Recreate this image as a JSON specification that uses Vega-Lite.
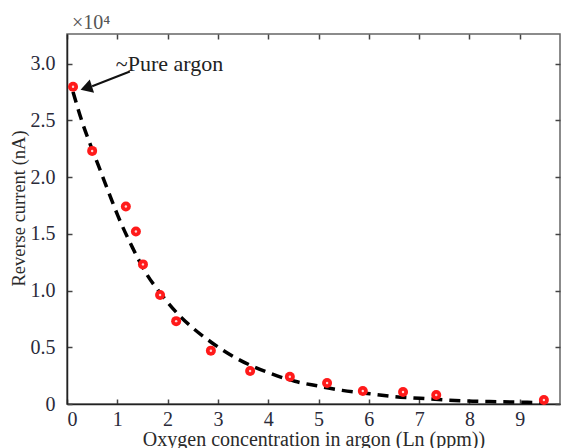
{
  "$schema": "https://vega.github.io/schema/vega-lite/v6.json",
  "width": 493,
  "height": 370,
  "autosize": {"type": "none"},
  "padding": {"left": 67, "top": 34, "right": 3, "bottom": 44},
  "background": "white",
  "config": {
    "font": "Liberation Serif",
    "view": {"stroke": "#666", "strokeWidth": 1.5},
    "axis": {
      "grid": false,
      "domainColor": "#222",
      "domainWidth": 1.5,
      "tickColor": "#444",
      "tickWidth": 1.5,
      "tickSize": -5,
      "labelFont": "Liberation Serif",
      "labelFontSize": 20,
      "labelColor": "#2a2a3a",
      "titleFont": "Liberation Serif",
      "titleFontSize": 20,
      "titleFontWeight": "normal",
      "titleColor": "#2a2a2a"
    }
  },
  "datasets": {
    "points": [
      {"x": 0.12, "y": 2.795}, {"x": 0.5, "y": 2.23}, {"x": 1.17, "y": 1.74},
      {"x": 1.37, "y": 1.52}, {"x": 1.51, "y": 1.23}, {"x": 1.85, "y": 0.96},
      {"x": 2.17, "y": 0.73}, {"x": 2.86, "y": 0.47}, {"x": 3.64, "y": 0.29},
      {"x": 4.43, "y": 0.24}, {"x": 5.17, "y": 0.185}, {"x": 5.88, "y": 0.115},
      {"x": 6.68, "y": 0.105}, {"x": 7.34, "y": 0.08}, {"x": 9.48, "y": 0.035}
    ],
    "curve": [
      {"x": 0.12, "y": 2.75}, {"x": 0.32, "y": 2.46}, {"x": 0.46, "y": 2.29},
      {"x": 0.66, "y": 2.06}, {"x": 0.85, "y": 1.84}, {"x": 1.01, "y": 1.66},
      {"x": 1.3, "y": 1.38}, {"x": 1.59, "y": 1.14}, {"x": 1.85, "y": 0.98},
      {"x": 2.19, "y": 0.8}, {"x": 2.5, "y": 0.67}, {"x": 2.88, "y": 0.54},
      {"x": 3.38, "y": 0.4}, {"x": 4.04, "y": 0.27}, {"x": 4.53, "y": 0.2},
      {"x": 4.97, "y": 0.16}, {"x": 5.47, "y": 0.12}, {"x": 6.02, "y": 0.09},
      {"x": 6.52, "y": 0.065}, {"x": 7.02, "y": 0.05}, {"x": 7.55, "y": 0.035},
      {"x": 8.07, "y": 0.025}, {"x": 8.6, "y": 0.02}, {"x": 9.15, "y": 0.015},
      {"x": 9.5, "y": 0.012}
    ],
    "arrow": [{"x": 1.25, "y": 2.93, "x2": 0.5, "y2": 2.8, "hx": 0.42, "hy": 2.79}],
    "labels": [
      {"x": 0.97, "y": 3.0, "t": "~Pure argon", "size": 22, "color": "#222"},
      {"x": 0.1, "y": 3.36, "t": "×10⁴", "size": 20, "color": "#555"}
    ]
  },
  "resolve": {"axis": {"x": "independent", "y": "independent"}},
  "layer": [
    {
      "data": {"name": "curve"},
      "mark": {"type": "line", "color": "black", "strokeWidth": 3.5, "strokeDash": [11, 7], "interpolate": "monotone"},
      "encoding": {
        "x": {"field": "x", "type": "quantitative",
              "scale": {"domain": [0, 9.8], "nice": false},
              "axis": {"orient": "bottom", "values": [0,1,2,3,4,5,6,7,8,9], "format": "d",
                       "labelFont": "Liberation Serif",
                       "title": "Oxygen concentration in argon (Ln (ppm))", "labelPadding": 10, "titlePadding": 0}},
        "y": {"field": "y", "type": "quantitative",
              "scale": {"domain": [0, 3.26], "nice": false},
              "axis": {"orient": "left", "values": [0,0.5,1,1.5,2,2.5,3],
                       "labelFont": "Liberation Serif",
                       "labelExpr": "datum.value == 0 ? '0' : format(datum.value, '.1f')",
                       "title": "Reverse current (nA)", "titleFontSize": 18.5, "titleY": 174,
                       "labelPadding": 17, "titlePadding": 2}}
      }
    },
    {
      "data": {"name": "points"},
      "mark": {"type": "point", "filled": true, "color": "#ff1a1a", "size": 100, "opacity": 1},
      "encoding": {
        "x": {"field": "x", "type": "quantitative",
              "axis": {"orient": "top", "values": [0,1,2,3,4,5,6,7,8,9], "labels": false, "title": null, "domain": false}},
        "y": {"field": "y", "type": "quantitative",
              "axis": {"orient": "right", "values": [0,0.5,1,1.5,2,2.5,3], "labels": false, "title": null, "domain": false}}
      }
    },
    {
      "data": {"name": "points"},
      "mark": {"type": "point", "filled": true, "color": "#ffd6d6", "size": 6, "opacity": 1},
      "encoding": {
        "x": {"field": "x", "type": "quantitative", "axis": null},
        "y": {"field": "y", "type": "quantitative", "axis": null}
      }
    },
    {
      "data": {"name": "arrow"},
      "mark": {"type": "rule", "color": "#111", "strokeWidth": 2},
      "encoding": {
        "x": {"field": "x", "type": "quantitative", "axis": null},
        "y": {"field": "y", "type": "quantitative", "axis": null},
        "x2": {"field": "x2"},
        "y2": {"field": "y2"}
      }
    },
    {
      "data": {"name": "arrow"},
      "mark": {"type": "point", "shape": "triangle", "filled": true, "color": "#111", "size": 190, "angle": 252, "opacity": 1},
      "encoding": {
        "x": {"field": "hx", "type": "quantitative", "axis": null},
        "y": {"field": "hy", "type": "quantitative", "axis": null}
      }
    },
    {
      "data": {"name": "labels"},
      "mark": {"type": "text", "align": "left", "baseline": "middle", "font": "Liberation Serif"},
      "encoding": {
        "x": {"field": "x", "type": "quantitative", "axis": null},
        "y": {"field": "y", "type": "quantitative", "axis": null},
        "text": {"field": "t"},
        "size": {"field": "size", "type": "quantitative", "scale": null},
        "color": {"field": "color", "type": "nominal", "scale": null}
      }
    }
  ]
}
